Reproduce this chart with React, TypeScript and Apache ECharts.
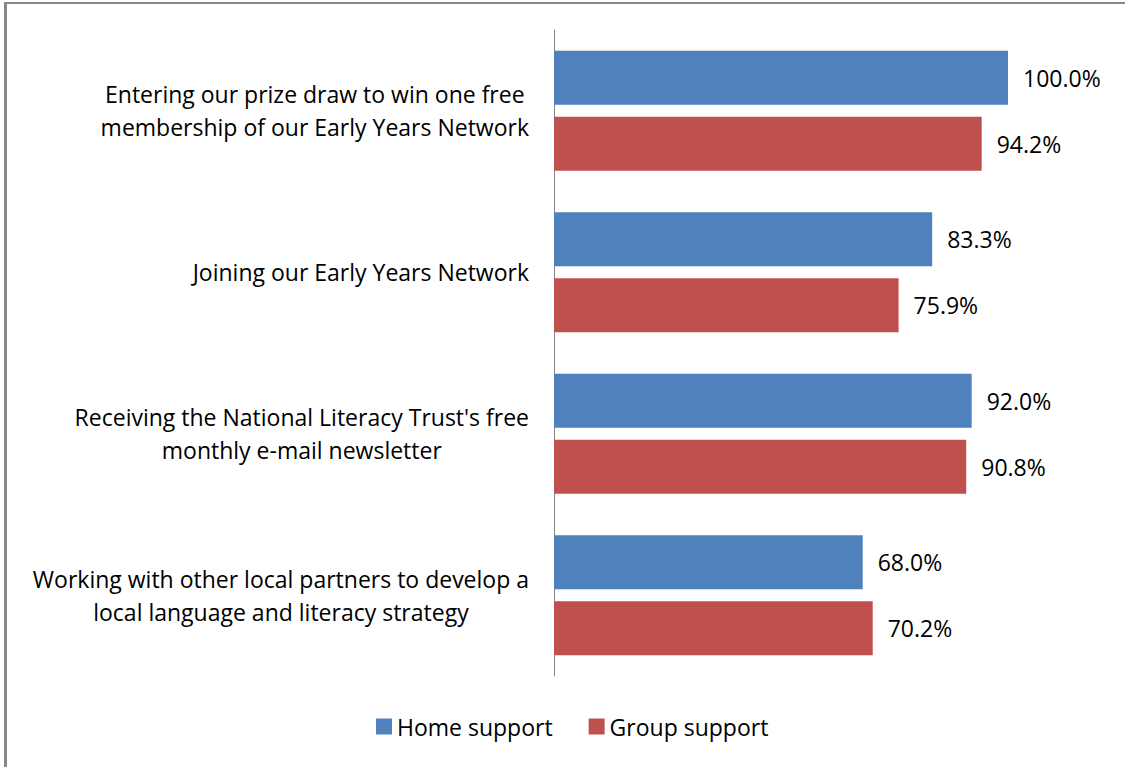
import React, { useEffect, useRef } from "react";
import * as echarts from "echarts";

const categories = [
  "Entering our prize draw to win one free\nmembership of our Early Years Network",
  "Joining our Early Years Network",
  "Receiving the National Literacy Trust's free\nmonthly e-mail newsletter",
  "Working with other local partners to develop a\nlocal language and literacy strategy",
];
const homeSupport = [100.0, 83.3, 92.0, 68.0];
const groupSupport = [94.2, 75.9, 90.8, 70.2];
const seriesNames = ["Home support", "Group support"];

const FONT = "Open Sans";
const FS = 23;

export default function App() {
  const ref = useRef<HTMLDivElement>(null);
  useEffect(() => {
    if (!ref.current) return;
    const chart = echarts.init(ref.current, null, { renderer: "svg" });
    const labelStyle = {
      show: true,
      position: "right" as const,
      distance: 15,
      formatter: (p: any) => p.value.toFixed(1) + "%",
      fontFamily: FONT,
      fontSize: FS,
      color: "#000",
    };
    chart.setOption({
      animation: false,
      backgroundColor: "#fff",
      textStyle: { fontFamily: FONT },
      grid: { left: 554, top: 30, bottom: 91, right: 117, containLabel: false },
      xAxis: {
        type: "value",
        min: 0,
        max: 100,
        show: false,
      },
      yAxis: {
        type: "category",
        inverse: true,
        data: categories,
        axisLine: { show: true, lineStyle: { color: "#868686", width: 1 } },
        axisTick: { show: false },
        axisLabel: {
          margin: 25,
          align: "right",
          formatter: (v: string) => v.split("\n").map((l) => `{c|${l}}`).join("\n"),
          rich: {
            c: { align: "center", fontFamily: FONT, fontSize: FS, color: "#000", lineHeight: 33 },
          },
        },
      },
      legend: {
        bottom: 29,
        left: 376,
        padding: 0,
        itemWidth: 16,
        itemHeight: 16,
        itemGap: 36,
        icon: "rect",
        data: seriesNames,
        textStyle: { fontFamily: FONT, fontSize: FS, color: "#000" },
      },
      series: [
        {
          name: seriesNames[0],
          type: "bar",
          data: homeSupport,
          barWidth: 54,
          barGap: "22%",
          itemStyle: { color: "#4F81BD" },
          label: labelStyle,
        },
        {
          name: seriesNames[1],
          type: "bar",
          data: groupSupport,
          barWidth: 54,
          barGap: "22%",
          itemStyle: { color: "#C0504D" },
          label: labelStyle,
        },
      ],
      graphic: [
        { type: "rect", shape: { x: 4, y: 2, width: 1121, height: 2 }, style: { fill: "#888" } },
        { type: "rect", shape: { x: 4, y: 2, width: 3, height: 765 }, style: { fill: "#888" } },
      ],
    });
    return () => chart.dispose();
  }, []);
  return (
    <div
      ref={ref}
      style={{ position: "absolute", left: 0, top: 0, width: 1125, height: 767 }}
    />
  );
}
